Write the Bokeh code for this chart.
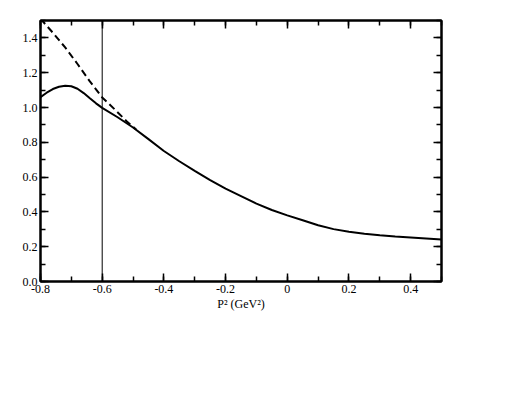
from bokeh.plotting import figure
from bokeh.models import (LinearAxis, FixedTicker, CustomJSTickFormatter, Span, Range1d)
from bokeh.embed import file_html
from bokeh.resources import INLINE

# ---- data ----
x_solid = [-0.80, -0.78, -0.76, -0.74, -0.72, -0.70, -0.68, -0.66, -0.64, -0.62,
           -0.60, -0.55, -0.50, -0.45, -0.40, -0.35, -0.30, -0.25, -0.20, -0.15,
           -0.10, -0.05, 0.00, 0.05, 0.10, 0.15, 0.20, 0.25, 0.30, 0.35, 0.40, 0.45, 0.50]
y_solid = [1.060, 1.085, 1.106, 1.119, 1.125, 1.122, 1.108, 1.083, 1.053, 1.024,
           0.998, 0.944, 0.885, 0.818, 0.750, 0.691, 0.636, 0.583, 0.534, 0.491,
           0.448, 0.411, 0.380, 0.352, 0.323, 0.301, 0.286, 0.275, 0.266, 0.259, 0.253, 0.247, 0.241]

x_dashed = [-0.80, -0.76, -0.72, -0.68, -0.64, -0.60, -0.56, -0.52, -0.49]
y_dashed = [1.510, 1.430, 1.345, 1.250, 1.150, 1.058, 0.990, 0.920, 0.874]

vline_x = -0.6

x_ticks = [-0.8, -0.6, -0.4, -0.2, 0.0, 0.2, 0.4]
x_minor = [-0.8, -0.7, -0.6, -0.5, -0.4, -0.3, -0.2, -0.1, 0.0, 0.1, 0.2, 0.3, 0.4, 0.5]
y_ticks = [0.0, 0.2, 0.4, 0.6, 0.8, 1.0, 1.2, 1.4]
y_minor = [0.0, 0.1, 0.2, 0.3, 0.4, 0.5, 0.6, 0.7, 0.8, 0.9, 1.0, 1.1, 1.2, 1.3, 1.4, 1.5]

x_label = "P\u00b2 (GeV\u00b2)"

FONT = "Liberation Serif"

p = figure(frame_width=401, frame_height=261,
           x_range=Range1d(-0.8, 0.5), y_range=Range1d(0.0, 1.5),
           output_backend="svg", toolbar_location=None,
           x_axis_location=None, y_axis_location=None,
           min_border_left=40, min_border_top=20, min_border_bottom=45, min_border_right=20)
p.background_fill_color = "white"
p.border_fill_color = "white"
p.outline_line_color = "black"
p.outline_line_width = 2
p.xgrid.visible = False
p.ygrid.visible = False

xfmt = CustomJSTickFormatter(code="return Math.abs(tick) < 1e-9 ? '0' : tick.toFixed(1);")
yfmt = CustomJSTickFormatter(code="return tick.toFixed(1);")
nofmt = CustomJSTickFormatter(code="return '';")


def style(ax, show_labels):
    ax.axis_line_color = "black"
    ax.axis_line_width = 2
    ax.major_tick_in = 8
    ax.major_tick_out = 0
    ax.minor_tick_in = 5
    ax.minor_tick_out = 0
    ax.major_tick_line_width = 1.5
    ax.minor_tick_line_width = 1.5
    ax.major_tick_line_color = "black"
    ax.minor_tick_line_color = "black"
    ax.major_label_text_font = FONT
    ax.major_label_text_font_size = "12px"
    ax.major_label_text_color = "black"
    ax.major_label_standoff = 3 if show_labels else 0


xb = LinearAxis(ticker=FixedTicker(ticks=x_ticks, minor_ticks=x_minor), formatter=xfmt,
                axis_label=x_label)
style(xb, True)
xb.axis_label_text_font = FONT
xb.axis_label_text_font_size = "12px"
xb.axis_label_text_font_style = "normal"
xb.axis_label_text_color = "black"
xb.axis_label_standoff = 1
p.add_layout(xb, "below")
xt = LinearAxis(ticker=FixedTicker(ticks=x_ticks, minor_ticks=x_minor), formatter=nofmt)
style(xt, False)
p.add_layout(xt, "above")
yl = LinearAxis(ticker=FixedTicker(ticks=y_ticks, minor_ticks=y_minor), formatter=yfmt)
style(yl, True)
p.add_layout(yl, "left")
yr = LinearAxis(ticker=FixedTicker(ticks=y_ticks, minor_ticks=y_minor), formatter=nofmt)
style(yr, False)
p.add_layout(yr, "right")

p.add_layout(Span(location=vline_x, dimension="height", line_color="black", line_width=1))

p.line(x_dashed, y_dashed, line_color="black", line_width=2, line_dash="7 4")
p.line(x_solid, y_solid, line_color="black", line_width=2)

open("out.html", "w").write(file_html(p, INLINE))
